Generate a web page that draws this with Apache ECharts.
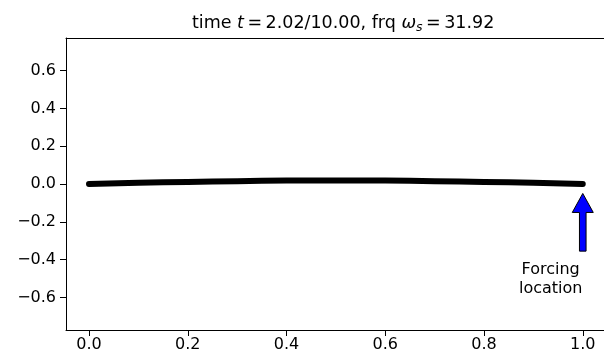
<!DOCTYPE html>
<html><head><meta charset="utf-8">
<script src="https://cdn.jsdelivr.net/npm/echarts@6/dist/echarts.min.js"></script>
<style>html,body{margin:0;padding:0;background:#fff}#c{width:604px;height:360px}</style>
</head><body><div id="c"></div>
<script>
// ---- data ----
const xs = [0.0, 0.1, 0.2, 0.3, 0.4, 0.5, 0.6, 0.7, 0.8, 0.9, 1.0];
const ys = [0.0, 0.006, 0.011, 0.015, 0.018, 0.019, 0.018, 0.015, 0.011, 0.006, 0.0];
const xTicks = [0.0, 0.2, 0.4, 0.6, 0.8, 1.0];
const yTicks = [-0.6, -0.4, -0.2, 0.0, 0.2, 0.4, 0.6];
const xRange = [-0.0466, 1.043];
const yRange = [-0.772, 0.772];
const arrowData = [[1.0, -0.05, -0.355]]; // x, tip y, tail y
const labelData = [[0.935, -0.503]];
const labelText = 'Forcing\nlocation';
const titleText = '{n|time }{i|t}{n|\u2009=\u20092.02/10.00, frq }{i|ω}{s|s}{n|\u2009=\u200931.92}';

const F = 'DejaVu Sans';
const TS = 16;
const fmt = v => (Math.abs(v) < 1e-9 ? 0 : v).toFixed(1).replace('-', '\u2212');
const lineBlack = {color: '#000', width: 1};
const chart = echarts.init(document.getElementById('c'), null, {renderer: 'canvas'});
chart.setOption({
  animation: false,
  backgroundColor: '#fff',
  title: {
    text: titleText, left: 187, top: 8,
    textStyle: {
      fontWeight: 'normal',
      rich: {
        n: {fontSize: 17.5, fontFamily: F, fontWeight: 'normal', color: '#000'},
        i: {fontSize: 17.5, fontFamily: F, fontWeight: 'normal', fontStyle: 'italic', color: '#000'},
        s: {fontSize: 12.5, fontFamily: F, fontWeight: 'normal', fontStyle: 'italic', color: '#000', padding: [8, 0, 0, 0]}
      }
    }
  },
  grid: {left: 66, right: 0, top: 38, bottom: 30, show: false},
  xAxis: [{
    type: 'value', min: xRange[0], max: xRange[1], position: 'bottom',
    axisLine: {show: true, onZero: false, lineStyle: lineBlack}, splitLine: {show: false},
    axisTick: {show: true, length: 6, lineStyle: {color: '#000'}, customValues: xTicks},
    axisLabel: {customValues: xTicks, formatter: fmt, color: '#000', fontFamily: F, fontSize: TS, margin: 7}
  }, {
    type: 'value', min: xRange[0], max: xRange[1], position: 'top',
    axisLine: {show: true, onZero: false, lineStyle: lineBlack}, splitLine: {show: false},
    axisTick: {show: false}, axisLabel: {show: false}
  }],
  yAxis: {
    type: 'value', min: yRange[0], max: yRange[1],
    axisLine: {show: true, onZero: false, lineStyle: lineBlack}, splitLine: {show: false},
    axisTick: {show: true, length: 6, lineStyle: {color: '#000'}, customValues: yTicks},
    axisLabel: {customValues: yTicks, formatter: fmt, color: '#000', fontFamily: F, fontSize: TS, margin: 10}
  },
  series: [
    {
      type: 'line', data: xs.map((x, i) => [x, ys[i]]), smooth: true, symbol: 'none',
      lineStyle: {color: '#000', width: 6, cap: 'round'}, z: 2
    },
    {
      type: 'custom', data: arrowData, z: 3, clip: false,
      renderItem: (params, api) => {
        const tip = api.coord([api.value(0), api.value(1)]);
        const tail = api.coord([api.value(0), api.value(2)]);
        const hw = 10.5, sw = 3.3, hl = 19;
        const x = tip[0], yt = tip[1], yb = tail[1];
        return {
          type: 'polygon',
          shape: {points: [[x, yt], [x + hw, yt + hl], [x + sw, yt + hl], [x + sw, yb], [x - sw, yb], [x - sw, yt + hl], [x - hw, yt + hl]]},
          style: {fill: '#0000ff', stroke: '#000', lineWidth: 1}
        };
      }
    },
    {
      type: 'custom', data: labelData, z: 3, clip: false,
      renderItem: (params, api) => {
        const p = api.coord([api.value(0), api.value(1)]);
        return {
          type: 'text', x: p[0], y: p[1],
          style: {text: labelText, fontFamily: F, fontSize: TS, lineHeight: 19, fill: '#000', align: 'center', verticalAlign: 'middle'}
        };
      }
    }
  ]
});
</script></body></html>
